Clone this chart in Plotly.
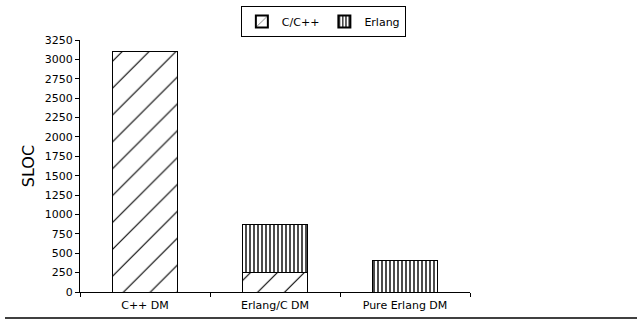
import plotly.graph_objects as go

categories = ["C++ DM", "Erlang/C DM", "Pure Erlang DM"]
cpp_values = [3100, 250, 0]
erlang_values = [0, 620, 400]
y_ticks = list(range(0, 3251, 250))

fig = go.Figure()
fig.add_trace(go.Bar(
    name="C/C++", x=categories, y=cpp_values, width=0.5,
    marker=dict(color="white", line=dict(color="black", width=1),
                pattern=dict(shape="/", size=19, solidity=0.06,
                             fgcolor="black", bgcolor="white", fillmode="replace")),
))
fig.add_trace(go.Bar(
    name="Erlang", x=categories, y=erlang_values, width=0.5,
    marker=dict(color="white", line=dict(color="black", width=1),
                pattern=dict(shape="|", size=4, solidity=0.35,
                             fgcolor="black", bgcolor="white", fillmode="replace")),
))

fig.update_layout(
    barmode="stack",
    width=637, height=320,
    margin=dict(l=80, r=167, t=40, b=28, autoexpand=False),
    paper_bgcolor="white", plot_bgcolor="white",
    font=dict(family="DejaVu Sans", size=11, color="black"),
    showlegend=True,
    legend=dict(orientation="h",
                x=0.624, xanchor="center", y=1.135, yanchor="top",
                bordercolor="black", borderwidth=1, bgcolor="white",
                font=dict(size=11), itemwidth=30, tracegroupgap=0,
                itemsizing="constant", traceorder="normal"),
    xaxis=dict(showline=True, linecolor="black", linewidth=1, automargin=False,
               ticks="outside", tickson="boundaries", ticklen=4, tickcolor="black",
               ticklabelstandoff=3,
               showgrid=False, zeroline=False),
    yaxis=dict(title=dict(text="SLOC", font=dict(size=16), standoff=6),
               automargin=False,
               range=[0, 3250], tickvals=y_ticks, showline=True, linecolor="black",
               linewidth=1, ticks="outside", ticklen=4, tickcolor="black",
               showgrid=False, zeroline=False),
    shapes=[dict(type="line", xref="paper", yref="paper",
                 x0=-75/390, x1=557/390, y0=-26/252, y1=-26/252,
                 line=dict(color="black", width=1.5))],
)

fig.write_html("out.html",
               config={"displayModeBar": False},
               post_script="document.body.style.margin='0';document.body.style.overflow='hidden';")
